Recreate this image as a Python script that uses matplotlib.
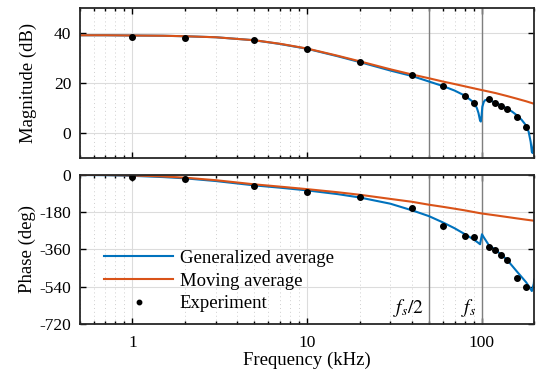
import matplotlib
matplotlib.use("Agg")
import matplotlib.pyplot as plt
import numpy as np
from matplotlib.ticker import FixedLocator, NullFormatter, FuncFormatter

plt.rcParams["font.family"] = ["Liberation Serif", "DejaVu Serif"]
plt.rcParams["mathtext.fontset"] = "stix"
plt.rcParams["axes.unicode_minus"] = False
plt.rcParams["font.size"] = 12.5

# model curves, frequency in kHz
f_ma = [0.5, 0.7, 1, 1.5, 2, 3, 5, 7, 10, 15, 20, 30, 40, 50, 60, 70, 80, 90, 100, 120, 140, 160, 180, 200]
mag_ma = [39.1, 39.1, 39.0, 38.9, 38.7, 38.3, 37.1, 35.7, 33.8, 30.9, 28.7, 25.5, 23.4, 21.9, 20.6, 19.6,
          18.7, 17.9, 17.2, 16.0, 14.8, 13.7, 12.7, 11.7]
ph_ma = [-1, -2, -4, -9, -15, -27, -47, -58, -70, -85, -97, -117, -131, -145, -155, -164, -172, -180, -187,
         -196, -204, -211, -217, -222]

f_ga_mag = [0.5, 0.7, 1, 1.5, 2, 3, 5, 7, 10, 15, 20, 30, 40, 50, 60, 70, 80, 90, 94, 96, 98, 99, 100,
            101, 103, 105, 110, 120, 130, 140, 150, 160, 170, 180, 186, 191, 194, 196, 198.5, 200]
mag_ga = [39.1, 39.1, 39.0, 38.9, 38.7, 38.3, 37.1, 35.6, 33.7, 30.7, 28.4, 25.0, 22.8, 20.6, 18.8, 17.0,
          15.0, 12.3, 10.0, 8.0, 5.0, 4.6, 7.0, 10.5, 12.5, 13.2, 13.2, 12.2, 11.0, 9.8, 8.5, 7.0, 5.2, 3.0,
          0.5, -3.5, -7.5, -8.0, -5.0, -3.0]

f_ga_ph = [0.5, 0.7, 1, 1.5, 2, 3, 5, 7, 10, 15, 20, 30, 40, 50, 60, 70, 80, 90, 95, 98, 100.5, 103,
           110, 120, 130, 140, 160, 180, 190, 194, 199, 200]
ph_ga = [-2, -3, -6, -12, -18, -31, -52, -63, -76, -94, -110, -140, -172, -200, -230, -258, -286, -312,
         -326, -335, -287, -302, -339, -362, -386, -410, -468, -518, -548, -560, -525, -505]

# measured points
f_exp = [1, 2, 5, 10, 20, 40, 60, 80, 90, 110, 120, 130, 140, 160, 180]
mag_exp = [38.4, 38.1, 37.1, 33.6, 28.4, 23.1, 18.9, 14.7, 12.0, 13.5, 11.9, 10.8, 9.6, 6.5, 2.4]
ph_exp = [-11, -23, -54, -83, -108, -160, -249, -296, -302, -348, -364, -387, -412, -497, -540]

fs = 100

blue = "#0072BD"
orange = "#D95319"

fig = plt.figure(figsize=(5.39, 3.8), dpi=100)
ax1 = fig.add_axes([0.148, 0.584, 0.843, 0.395])
ax2 = fig.add_axes([0.148, 0.1466, 0.843, 0.394])

minor = [k * 10.0 ** e for e in range(-1, 3) for k in range(2, 10)]

for ax in (ax1, ax2):
    ax.set_xscale("log")
    ax.set_xlim(0.5, 200)
    ax.xaxis.set_minor_locator(FixedLocator(minor))
    ax.xaxis.set_minor_formatter(NullFormatter())
    ax.grid(True, which="major", color="#dcdcdc", lw=0.8)
    ax.grid(True, which="minor", axis="x", color="#cfcfcf", lw=0.7, ls=(0, (1, 3)))
    ax.tick_params(which="both", direction="in", top=True, right=True, width=1.0, labelsize=12.5)
    ax.tick_params(which="major", length=4)
    ax.tick_params(which="minor", length=2.5)
    ax.tick_params(axis="y", pad=6)
    ax.tick_params(axis="x", pad=8)
    for s in ax.spines.values():
        s.set_linewidth(1.3)
        s.set_color("#262626")
    ax.axvline(fs / 2, color="#7f7f7f", lw=1.0, zorder=1.5)
    ax.axvline(fs, color="#7f7f7f", lw=1.0, zorder=1.5)
    ax.set_axisbelow(True)

ax1.plot(f_ga_mag, mag_ga, color=blue, lw=1.5, label="Generalized average")
ax1.plot(f_ma, mag_ma, color=orange, lw=1.5, label="Moving average")
ax1.plot(f_exp, mag_exp, "o", color="black", ms=4, label="Experiment")
ax1.set_ylim(-10, 50)
ax1.set_yticks([0, 20, 40])
ax1.xaxis.set_major_formatter(NullFormatter())
ax1.set_ylabel("Magnitude (dB)", fontsize=13.5, labelpad=12)

ax2.plot(f_ga_ph, ph_ga, color=blue, lw=1.5, label="Generalized average")
ax2.plot(f_ma, ph_ma, color=orange, lw=1.5, label="Moving average")
ax2.plot(f_exp, ph_exp, "o", color="black", ms=4, label="Experiment")
ax2.set_ylim(-720, 0)
ax2.set_yticks([0, -180, -360, -540, -720])
ax2.yaxis.set_major_formatter(FuncFormatter(lambda v, p: "%d" % v))
ax2.set_xticks([1, 10, 100])
ax2.xaxis.set_major_formatter(FuncFormatter(lambda v, p: "%g" % v))
ax2.set_ylabel("Phase (deg)", fontsize=13.5, labelpad=2.5)
ax2.set_xlabel("Frequency (kHz)", fontsize=13.5, labelpad=0)

ax2.text(47, -640, r"$f_s/2$", ha="right", va="center", fontsize=14)
ax2.text(93, -640, r"$f_s$", ha="right", va="center", fontsize=14)

ax2.legend(loc="lower left", bbox_to_anchor=(0.053, 0.08), frameon=False, borderpad=0,
           borderaxespad=0, handlelength=3.7, handletextpad=0.35, labelspacing=0.3,
           fontsize=13.5, markerscale=0.8)

fig.savefig("out.png", dpi=100)
